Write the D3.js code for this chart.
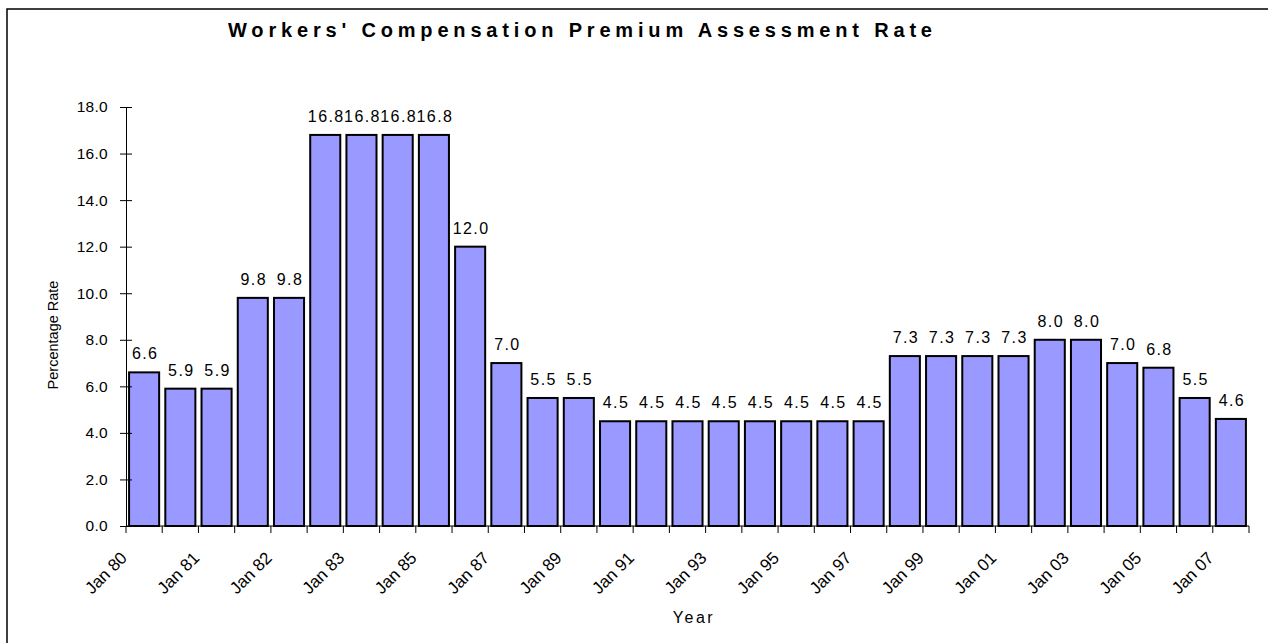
<!DOCTYPE html>
<html>
<head>
<meta charset="utf-8">
<script src="https://cdn.jsdelivr.net/npm/d3@7"></script>
<style>
  body { margin: 0; background: #fff; }
  svg { display: block; font-family: "Liberation Sans", Arial, sans-serif; }
</style>
</head>
<body>
<div id="chart"></div>
<script>
const VALUES = [6.6, 5.9, 5.9, 9.8, 9.8, 16.8, 16.8, 16.8, 16.8, 12.0, 7.0, 5.5, 5.5,
  4.5, 4.5, 4.5, 4.5, 4.5, 4.5, 4.5, 4.5, 7.3, 7.3, 7.3, 7.3, 8.0, 8.0, 7.0, 6.8, 5.5, 4.6]
// one label every second bar, placed at the left edge of that bar
const TICK_LABELS = ["Jan 80","Jan 81","Jan 82","Jan 83","Jan 85","Jan 87","Jan 89","Jan 91",
  "Jan 93","Jan 95","Jan 97","Jan 99","Jan 01","Jan 03","Jan 05","Jan 07"]
const Y_TICKS = d3.range(0, 18.1, 2)

const width = 1268, height = 643
const margin = { top: 107, right: 19, bottom: 117, left: 126 }
const plotR = width - margin.right, plotB = height - margin.bottom

const svg = d3.select("#chart").append("svg")
  .attr("width", width).attr("height", height)

// outer frame (only top/left visible in the original)
svg.append("rect")
  .attr("x", 7).attr("y", 9)
  .attr("width", width + 20).attr("height", height + 20)
  .attr("fill", "none").attr("stroke", "#000").attr("stroke-width", 1.5)

svg.append("text")
  .attr("x", 228).attr("y", 37)
  .attr("font-size", 20).attr("font-weight", "bold")
  .attr("textLength", 704).attr("lengthAdjust", "spacing")
  .text("Workers' Compensation Premium Assessment Rate")

const x = d3.scaleBand()
  .domain(d3.range(VALUES.length))
  .range([margin.left, plotR])
  .paddingInner(0.17).paddingOuter(0.085)
const edge = i => x.range()[0] + i * x.step()

const y = d3.scaleLinear().domain([0, 18]).range([plotB, margin.top])

// bars
svg.append("g").selectAll("rect").data(VALUES).join("rect")
  .attr("x", (d, i) => x(i)).attr("width", x.bandwidth())
  .attr("y", d => y(d)).attr("height", d => y(0) - y(d))
  .attr("fill", "#9999FF").attr("stroke", "#000").attr("stroke-width", 2)

// value labels
svg.append("g").selectAll("text").data(VALUES).join("text")
  .attr("x", (d, i) => x(i) + x.bandwidth() / 2 + 1)
  .attr("y", d => y(d) - 13)
  .attr("text-anchor", "middle")
  .attr("font-size", 16).attr("letter-spacing", 1.4)
  .text(d => d.toFixed(1))

// y axis
const yAxis = svg.append("g")
  .attr("transform", `translate(${margin.left},0)`)
  .call(d3.axisLeft(y).tickValues(Y_TICKS).tickFormat(d3.format(".1f")).tickSize(6))
yAxis.select(".domain").attr("stroke", "#000")
yAxis.selectAll(".tick line").attr("x1", 6).attr("stroke", "#000")
yAxis.selectAll(".tick text")
  .attr("x", -18).attr("font-size", 15.5).attr("font-family", null)
  .attr("letter-spacing", 0.3).attr("fill", "#000")

// x axis: ticks at every bar boundary
const bounds = d3.range(VALUES.length + 1)
const xg = svg.append("g")
xg.append("line")
  .attr("x1", edge(0)).attr("x2", edge(VALUES.length))
  .attr("y1", plotB).attr("y2", plotB).attr("stroke", "#000")
xg.selectAll(".xt").data(bounds).join("line").attr("class", "xt")
  .attr("x1", d => edge(d)).attr("x2", d => edge(d))
  .attr("y1", plotB).attr("y2", plotB + 7)
  .attr("stroke", "#000")
xg.selectAll(".xl").data(TICK_LABELS).join("text").attr("class", "xl")
  .attr("transform", (d, i) => `translate(${edge(i * 2) + 2},${plotB + 33}) rotate(-45)`)
  .attr("text-anchor", "end")
  .attr("font-size", 17)
  .text(d => d)

svg.append("text")
  .attr("x", 694).attr("y", 623)
  .attr("text-anchor", "middle").attr("font-size", 16).attr("letter-spacing", 2.5)
  .text("Year")

svg.append("text")
  .attr("transform", `translate(58,335) rotate(-90)`)
  .attr("text-anchor", "middle").attr("font-size", 14.5)
  .text("Percentage Rate")
</script>
</body>
</html>
